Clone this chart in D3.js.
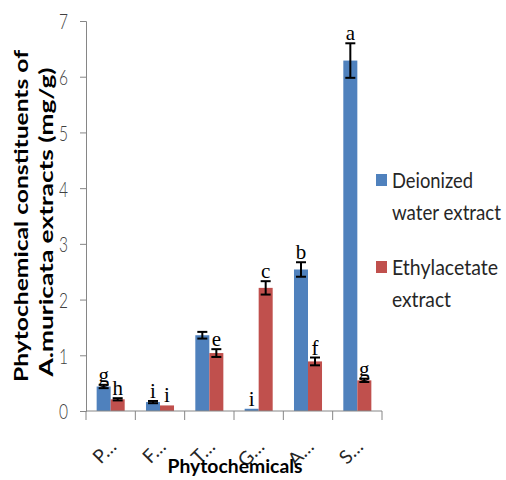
<!DOCTYPE html>
<html><head><meta charset="utf-8">
<script src="https://cdn.jsdelivr.net/npm/d3@7"></script>
<style>body{margin:0;background:#fff}</style>
</head><body><svg id="c" width="506" height="480"></svg>
<script>
const categories = ["P…","F…","T…","G…","A…","S…"];
const seriesNames = ["Deionized water extract","Ethylacetate extract"];
const deionized = [0.44, 0.16, 1.36, 0.04, 2.54, 6.29];
const ethylacetate = [0.21, 0.10, 1.04, 2.21, 0.89, 0.55];
const deionizedErr = [0.03, 0.02, 0.06, 0, 0.13, 0.31];
const ethylacetateErr = [0.02, 0, 0.07, 0.12, 0.07, 0.03];
const deionizedLetters = ["g","i","","i","b","a"];
const ethylacetateLetters = ["h","i","e","c","f","g"];
const yTicks = [0,1,2,3,4,5,6,7];
const colors = ["#4F81BD","#C0504D"];

(function(){
const svg = d3.select("#c");
const pl = 86, pr = 382, pt = 21, pb = 411;
const x0 = d3.scaleBand().domain(categories).range([pl, pr]).padding(0);
const x1 = d3.scaleBand().domain(seriesNames).range([0, x0.bandwidth()]).paddingInner(0).paddingOuter(0.76);
const y = d3.scaleLinear().domain([0,7]).range([pb, pt]);

const data = [];
categories.forEach((c,i)=>{
  data.push({c, s:seriesNames[0], v:deionized[i], e:deionizedErr[i], l:deionizedLetters[i], k:0});
  data.push({c, s:seriesNames[1], v:ethylacetate[i], e:ethylacetateErr[i], l:ethylacetateLetters[i], k:1});
});

// bars
svg.append("g").selectAll("rect").data(data).join("rect")
  .attr("x", d=>x0(d.c)+x1(d.s))
  .attr("y", d=>y(d.v))
  .attr("width", x1.bandwidth())
  .attr("height", d=>y(0)-y(d.v))
  .attr("fill", d=>colors[d.k]);

// y axis
const ya = svg.append("g").attr("transform",`translate(${pl},0)`)
  .call(d3.axisLeft(y).tickValues(yTicks).tickSize(6).tickPadding(12).tickFormat(d3.format("d")));
ya.select(".domain").attr("stroke","#868686");
ya.selectAll(".tick line").attr("stroke","#868686");
ya.selectAll(".tick text").attr("font-family","Lato, 'Open Sans', sans-serif").attr("font-size",22)
  .attr("font-weight",300)
  .attr("fill","#404040").attr("textLength",9).attr("lengthAdjust","spacingAndGlyphs").attr("dy","0.36em");

// x axis
const xa = svg.append("g").attr("transform",`translate(0,${pb})`);
xa.append("line").attr("x1",pl).attr("x2",pr).attr("y1",0).attr("y2",0).attr("stroke","#868686");
const bounds = categories.map(c=>x0(c)).concat([pr]);
xa.selectAll("line.t").data(bounds).join("line").attr("class","t")
  .attr("x1",d=>d).attr("x2",d=>d).attr("y1",0).attr("y2",9).attr("stroke","#868686");
svg.append("g").selectAll("text").data(categories).join("text")
  .attr("transform", c=>`translate(${x0(c)+x0.bandwidth()/2+7},448) rotate(-45)`)
  .attr("text-anchor","end")
  .attr("font-family","Lato, 'Open Sans', sans-serif").attr("font-size",19).attr("fill","#262626")
  .text(c=>c);

// error bars
const eg = svg.append("g").attr("stroke","#000").attr("stroke-width",2);
data.filter(d=>d.e>0).forEach(d=>{
  const cx = x0(d.c)+x1(d.s)+x1.bandwidth()/2;
  eg.append("line").attr("x1",cx).attr("x2",cx).attr("y1",y(d.v+d.e)).attr("y2",y(d.v-d.e));
  eg.append("line").attr("x1",cx-5).attr("x2",cx+5).attr("y1",y(d.v+d.e)).attr("y2",y(d.v+d.e));
  eg.append("line").attr("x1",cx-5).attr("x2",cx+5).attr("y1",y(d.v-d.e)).attr("y2",y(d.v-d.e));
});

// letters
svg.append("g").selectAll("text").data(data.filter(d=>d.l)).join("text")
  .attr("x", d=>x0(d.c)+x1(d.s)+x1.bandwidth()/2)
  .attr("y", d=>y(d.v+d.e)-3)
  .attr("text-anchor","middle")
  .attr("font-family","'Liberation Serif', 'Times New Roman', serif").attr("font-size",21).attr("fill","#000")
  .text(d=>d.l);

// axis titles
const yt = svg.append("g").attr("font-family","Lato, 'Open Sans', sans-serif").attr("font-weight","bold")
  .attr("font-size",19).attr("fill","#000");
yt.append("text").attr("transform","translate(28,216) rotate(-90)").attr("text-anchor","middle")
  .attr("textLength",332).attr("lengthAdjust","spacingAndGlyphs").text("Phytochemical constituents of");
yt.append("text").attr("transform","translate(53,222) rotate(-90)").attr("text-anchor","middle")
  .attr("textLength",309).attr("lengthAdjust","spacingAndGlyphs").text("A.muricata extracts (mg/g)");
svg.append("text").attr("x",235).attr("y",473).attr("text-anchor","middle")
  .attr("font-family","Lato, 'Open Sans', sans-serif").attr("font-weight","bold").attr("font-size",19)
  .attr("textLength",135).attr("lengthAdjust","spacingAndGlyphs").text("Phytochemicals");

// legend
const legendLines = [["Deionized","water extract"],["Ethylacetate","extract"]];
const legendWidths = [[81,109],[106,59]];
const legendY = [188, 275];
const lg = svg.append("g").attr("font-family","Lato, 'Open Sans', sans-serif").attr("font-size",21).attr("fill","#262626");
seriesNames.forEach((s,i)=>{
  lg.append("rect").attr("x",376).attr("y",legendY[i]-14).attr("width",11).attr("height",12).attr("fill",colors[i]);
  legendLines[i].forEach((t,j)=>{
    lg.append("text").attr("x",392).attr("y",legendY[i]+j*32)
      .attr("textLength",legendWidths[i][j]).attr("lengthAdjust","spacingAndGlyphs").text(t);
  });
});
})();
</script></body></html>
